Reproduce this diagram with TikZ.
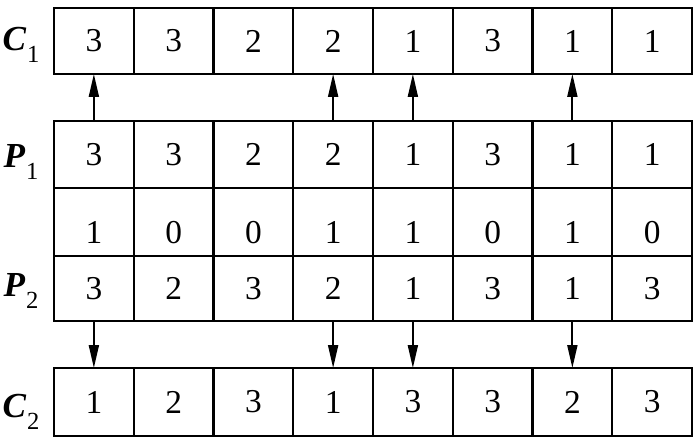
\documentclass[tikz,border=0pt]{standalone}
\usepackage{fontspec}
\setmainfont{Liberation Serif}
\usetikzlibrary{arrows.meta}

\tikzset{
  cell/.style={draw, line width=1.3pt, inner sep=0pt, outer sep=0pt,
    minimum width=1.595cm, minimum height=1.34cm, font=\fontsize{19}{22}\selectfont},
  maskcell/.style={cell, minimum height=1.36cm, text height=0.88cm, text depth=0pt},
  rowlabel/.style={inner sep=0pt, font=\fontsize{20}{24}\selectfont},
  arr/.style={line width=1.1pt, -{Triangle[length=0.46cm, width=0.2cm]}}
}
\newcommand{\rowlab}[2]{{\bfseries\itshape #1}\kern0.5pt\raisebox{-0.7ex}{\fontsize{14}{16}\selectfont #2}}

\begin{document}
\begin{tikzpicture}[x=0.02cm, y=-0.02cm]
  \useasboundingbox (0,0) rectangle (700,442);

  % ROW LABELS
  \node[rowlabel] (lc1) at (21,45) {\rowlab{C}{1}};
  \node[rowlabel] (lp1) at (21,162) {\rowlab{P}{1}};
  \node[rowlabel] (lp2) at (21,291) {\rowlab{P}{2}};
  \node[rowlabel] (lc2) at (21,412) {\rowlab{C}{2}};

  % DRAW CELLS
  \foreach \v [count=\i] in {3,3,2,2,1,3,1,1}
    \node[cell, minimum height=1.32cm] (c1-\i) at (14.125+79.75*\i, 41) {\v};
  \foreach \v [count=\i] in {3,3,2,2,1,3,1,1}
    \node[cell] (p1-\i) at (14.125+79.75*\i, 154.5) {\v};
  \foreach \v [count=\i] in {1,0,0,1,1,0,1,0}
    \node[maskcell] (m-\i) at (14.125+79.75*\i, 222) {\v};
  \foreach \v [count=\i] in {3,2,3,2,1,3,1,3}
    \node[cell, minimum height=1.30cm] (p2-\i) at (14.125+79.75*\i, 288.5) {\v};
  \foreach \v [count=\i] in {1,2,3,1,3,3,2,3}
    \node[cell, minimum height=1.36cm] (c2-\i) at (14.125+79.75*\i, 402) {\v};

  % DRAW ARROWS
  \draw[arr] (p1-1.north) -- (c1-1.south); \draw[arr] (p1-4.north) -- (c1-4.south);
  \draw[arr] (p1-5.north) -- (c1-5.south); \draw[arr] (p1-7.north) -- (c1-7.south);
  \draw[arr] (p2-1.south) -- (c2-1.north); \draw[arr] (p2-4.south) -- (c2-4.north);
  \draw[arr] (p2-5.south) -- (c2-5.north); \draw[arr] (p2-7.south) -- (c2-7.north);
\end{tikzpicture}
\end{document}
